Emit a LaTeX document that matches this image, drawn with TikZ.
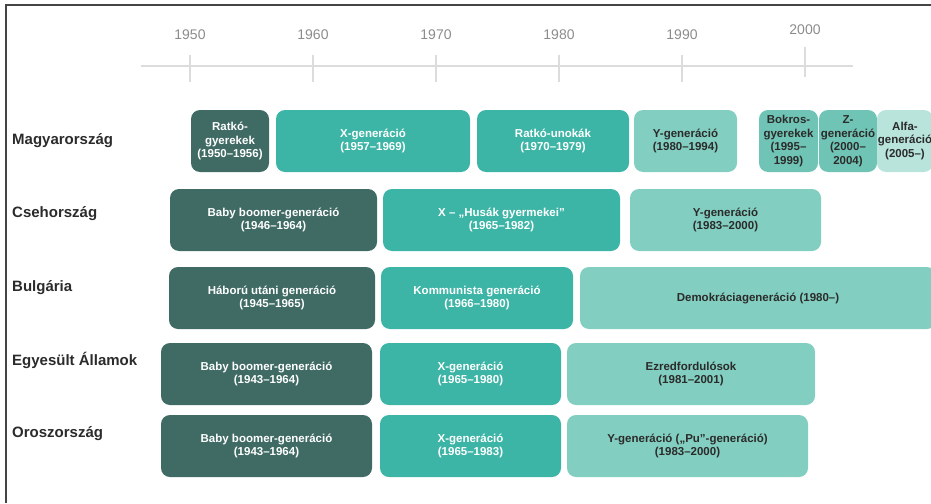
\documentclass[tikz,border=0pt]{standalone}
\usepackage{fontspec}
\setmainfont{Liberation Sans}
\definecolor{darkteal}{HTML}{3F6B64}
\definecolor{midteal}{HTML}{3DB5A6}
\definecolor{lightteal}{HTML}{82CEC0}
\definecolor{softteal}{HTML}{70C4B5}
\definecolor{paleteal}{HTML}{B8E4DB}
\definecolor{inkgray}{HTML}{2B2B2B}
\definecolor{axisgray}{HTML}{DCDCDC}
\definecolor{yeargray}{HTML}{8C8C8C}
\definecolor{framegray}{HTML}{444444}

\begin{document}
\begin{tikzpicture}[x=1pt, y=-1pt,
    gen/.style={rectangle, rounded corners=9pt, inner sep=0pt, minimum height=62pt, align=center, font=\fontsize{11.5}{13.5}\selectfont\bfseries},
    darkgen/.style={gen, fill=darkteal, text=white},
    midgen/.style={gen, fill=midteal, text=white},
    lightgen/.style={gen, fill=lightteal, text=inkgray},
    softgen/.style={gen, fill=softteal, text=inkgray},
    palegen/.style={gen, fill=paleteal, text=inkgray},
    country/.style={anchor=west, inner sep=0pt, font=\fontsize{15}{18}\selectfont\bfseries, text=inkgray},
    year/.style={inner sep=0pt, font=\fontsize{14}{16}\selectfont, text=yeargray},
    axis/.style={draw=axisgray, line width=1.5pt}]
            \useasboundingbox (0,0) rectangle (931,503);
            \clip (0,0) rectangle (931,503);

            % 枠
            \path[draw, framegray, line width=1.6pt](6,503) to (6,5) to (931,5);

            % 年表の軸
            \coordinate(axL) at (141,66);
            \coordinate(axR) at (853,66);
            \path[axis](axL) to (axR);
            \path[axis](190,55) to (190,82);
            \path[axis](313,55) to (313,82);
            \path[axis](436,55) to (436,82);
            \path[axis](559,55) to (559,82);
            \path[axis](682,55) to (682,82);
            \path[axis](805,47) to (805,77);
            \node[year](y1950) at (190,35) {1950};
            \node[year](y1960) at (313,35) {1960};
            \node[year](y1970) at (436,35) {1970};
            \node[year](y1980) at (559,35) {1980};
            \node[year](y1990) at (682,35) {1990};
            \node[year](y2000) at (805,30) {2000};

            % Magyarország
            \node[country](hu) at (12,141) {Magyarország};
            \node[darkgen, minimum width=78pt](hu1) at (230,141) {Ratkó-\\gyerekek\\(1950–1956)};
            \node[midgen, minimum width=194pt](hu2) at (373,141) {X-generáció\\(1957–1969)};
            \node[midgen, minimum width=152pt](hu3) at (553,141) {Ratkó-unokák\\(1970–1979)};
            \node[lightgen, minimum width=103pt](hu4) at (685.5,141) {Y-generáció\\(1980–1994)};
            \node[softgen, minimum width=59pt](hu5) at (788.5,141) {Bokros-\\gyerekek\\(1995–\\1999)};
            \node[softgen, minimum width=58pt](hu6) at (848,141) {Z-\\generáció\\(2000–\\2004)};
            \node[palegen, minimum width=56pt](hu7) at (905,141) {Alfa-\\generáció\\(2005–)};

            % Csehország
            \node[country](cz) at (12,214) {Csehország};
            \node[darkgen, minimum width=207pt](cz1) at (273.5,220) {Baby boomer-generáció\\(1946–1964)};
            \node[midgen, minimum width=237pt](cz2) at (501.5,220) {X – „Husák gyermekei”\\(1965–1982)};
            \node[lightgen, minimum width=191pt](cz3) at (725.5,220) {Y-generáció\\(1983–2000)};

            % Bulgária
            \node[country](bg) at (12,288) {Bulgária};
            \node[darkgen, minimum width=206pt](bg1) at (272,298) {Háború utáni generáció\\(1945–1965)};
            \node[midgen, minimum width=192pt](bg2) at (477,298) {Kommunista generáció\\(1966–1980)};
            \node[lightgen, minimum width=356pt](bg3) at (758,298) {Demokráciageneráció (1980–)};

            % Egyesült Államok
            \node[country](us) at (12,360) {Egyesült Államok};
            \node[darkgen, minimum width=211pt](us1) at (266.5,374) {Baby boomer-generáció\\(1943–1964)};
            \node[midgen, minimum width=181pt](us2) at (470.5,374) {X-generáció\\(1965–1980)};
            \node[lightgen, minimum width=248pt](us3) at (691,374) {Ezredfordulósok\\(1981–2001)};

            % Oroszország
            \node[country](ru) at (12,434) {Oroszország};
            \node[darkgen, minimum width=211pt](ru1) at (266.5,446) {Baby boomer-generáció\\(1943–1964)};
            \node[midgen, minimum width=181pt](ru2) at (470.5,446) {X-generáció\\(1965–1983)};
            \node[lightgen, minimum width=241pt](ru3) at (687.5,446) {Y-generáció („Pu”-generáció)\\(1983–2000)};
        \end{tikzpicture}
\end{document}
